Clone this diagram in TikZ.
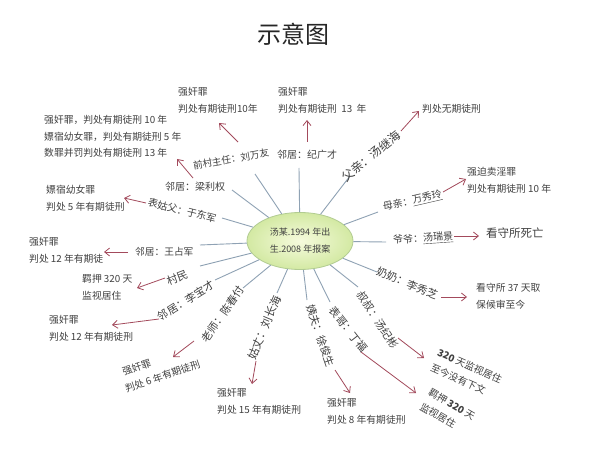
\documentclass[tikz,border=0pt]{standalone}
\usepackage{fontspec}
\setmainfont{Noto Sans CJK SC}
\usetikzlibrary{arrows.meta,shapes.geometric}
\definecolor{txt}{HTML}{404040}
\definecolor{spk}{HTML}{8FA2B4}
\definecolor{arr}{HTML}{A34A5C}
\definecolor{elin}{HTML}{F6FBDD}
\definecolor{elout}{HTML}{D3E9A3}
\definecolor{eldraw}{HTML}{B2CC92}
\begin{document}
\begin{tikzpicture}[x=1pt,y=-1pt,
  lab/.style={font=\fontsize{10}{16}\selectfont, text=txt, inner sep=0pt, anchor=west},
  rlab/.style={lab, font=\fontsize{10.8}{16}\selectfont},
  res/.style={font=\fontsize{9.8}{16.8}\selectfont, text=txt, inner sep=0pt, anchor=west, align=left},
  spoke/.style={draw=spk, line width=0.9pt},
  arrow/.style={draw=arr, line width=0.8pt, -{Straight Barb[length=5pt,width=8pt]}},
]
\useasboundingbox (0,0) rectangle (600,449);
\fill[white] (0,0) rectangle (600,449);

\node[font=\fontsize{24}{24}\selectfont, text=black!85] (title) at (293,34) {示意图};

% centre
\node[ellipse, draw=eldraw, line width=0.8pt, inner color=elin, outer color=elout,
      minimum width=106pt, minimum height=57pt, inner sep=0pt, align=left,
      font=\fontsize{9}{17}\selectfont, text=txt] (c) at (300,241) {汤某.1994 年出\\生.2008 年报案};

% spoke ends
\coordinate (s1) at (255,174);
\coordinate (s2) at (299,168);
\coordinate (s3) at (350,176);
\coordinate (s4) at (378,212);
\coordinate (s5) at (386,242);
\coordinate (s6) at (377,272);
\coordinate (s7) at (358,287);
\coordinate (s8) at (330,302);
\coordinate (s9) at (307,300);
\coordinate (s10) at (277,293);
\coordinate (s11) at (243,288);
\coordinate (s12) at (215,280);
\coordinate (s13) at (200,266);
\coordinate (s14) at (200,245);
\coordinate (s15) at (222,218);
\coordinate (s16) at (232,190);
\foreach \i in {1,...,16} {\draw[spoke] (c) -- (s\i);}

% labels
\node[lab, font=\fontsize{9.6}{16}\selectfont, rotate=10] (l1) at (193,166) {前村主任：刘万友};
\node[lab] (l2) at (277,155) {邻居：纪广才};
\node[lab, font=\fontsize{12}{16}\selectfont, rotate=39] (l3) at (343,179) {父亲：汤继海};
\node[lab, rotate=13] (l4) at (383,208) {母亲：\underline{万秀玲}};
\node[lab, rotate=4] (l5) at (393,241) {爷爷：\underline{汤瑞景}};
\node[rlab, rotate=-22] (l6) at (377,271) {奶奶：李秀芝};
\node[rlab, rotate=-57] (l7) at (360,292.5) {叔叔：汤纪彬};
\node[rlab, rotate=-52] (l8) at (332,308) {表哥：丁福};
\node[rlab, rotate=-71] (l9) at (310,305) {姨夫：徐俊生};
\node[rlab, font=\fontsize{11.3}{16}\selectfont, rotate=67] (l10) at (251,359) {姑丈：刘长海};
\node[rlab, rotate=55] (l11) at (204,341) {老师：陈春付};
\node[rlab, rotate=32] (l12) at (158.5,318) {邻居：李宝才};
\node[rlab, rotate=21] (l13) at (167,282) {村民};
\node[lab, font=\fontsize{9.7}{16}\selectfont] (l14) at (135,252) {邻居：王占军};
\node[lab, rotate=-14] (l15) at (148,202) {表姑父：于东军};
\node[lab] (l16) at (165,187) {邻居：梁利权};

% results
\node[res] (r1) at (178,100.5) {强奸罪\\判处有期徒刑10年};
\node[res] (r2) at (278,100.5) {强奸罪\\判处有期徒刑\ \ 13\ \ 年};
\node[res] (r3) at (422,109) {判处无期徒刑};
\node[res] (r4) at (467,180) {强迫卖淫罪\\判处有期徒刑 10 年};
\node[res, font=\fontsize{11.5}{16}\selectfont] (r5) at (486,233) {看守所死亡};
\node[res] (r6) at (476,296.5) {看守所 37 天取\\保候审至今};
\node[res, rotate=-24] (r7) at (434.5,359.5) {\textbf{320} 天监视居住\\至今没有下文};
\node[res, rotate=-30] (r8) at (425,398.5) {羁押 \textbf{320} 天\\监视居住};
\node[res] (r9) at (327,411.5) {强奸罪\\判处 8 年有期徒刑};
\node[res] (r10) at (217,401) {强奸罪\\判处 15 年有期徒刑};
\node[res, rotate=19] (r11) at (122.5,381.3) {\hspace*{3pt}强奸罪\\判处 6 年有期徒刑};
\node[res] (r12) at (49,328) {强奸罪\\判处 12 年有期徒刑};
\node[res] (r13) at (82,287.5) {羁押 320 天\\监视居住};
\node[res] (r14) at (29,250) {强奸罪\\判处 12 年有期徒};
\node[res] (r15) at (46,198.5) {嫖宿幼女罪\\判处 5 年有期徒刑};
\node[res, font=\fontsize{9.8}{16.5}\selectfont] (r16) at (44,136.5) {强奸罪，判处有期徒刑 10 年\\嫖宿幼女罪，判处有期徒刑 5 年\\数罪并罚判处有期徒刑 13 年};

% arrow ends
\coordinate (a1t) at (238,142);  \coordinate (a1h) at (219,123);
\coordinate (a2t) at (307,142);  \coordinate (a2h) at (307,120);
\coordinate (a3t) at (401,131);  \coordinate (a3h) at (419,111);
\coordinate (a4t) at (443,192);  \coordinate (a4h) at (466,179);
\coordinate (a5t) at (454,236);  \coordinate (a5h) at (479,236);
\coordinate (a6t) at (441,297);  \coordinate (a6h) at (467,297);
\coordinate (a7t) at (398,338);  \coordinate (a7h) at (424,358);
\coordinate (a8t) at (361,352);  \coordinate (a8h) at (416,393);
\coordinate (a9t) at (335,370);  \coordinate (a9h) at (350,393);
\coordinate (a10t) at (256,361); \coordinate (a10h) at (252,384);
\coordinate (a11t) at (194,341); \coordinate (a11h) at (173,357);
\coordinate (a12t) at (159,319); \coordinate (a12h) at (112,325);
\coordinate (a13t) at (165,278); \coordinate (a13h) at (137,288);
\coordinate (a14t) at (128,252); \coordinate (a14h) at (104,252);
\coordinate (a15t) at (146,203); \coordinate (a15h) at (124,198);
\coordinate (a16t) at (193,178); \coordinate (a16h) at (177,159);
\foreach \i in {1,...,16} {\draw[arrow] (a\i t) -- (a\i h);}
\end{tikzpicture}
\end{document}
